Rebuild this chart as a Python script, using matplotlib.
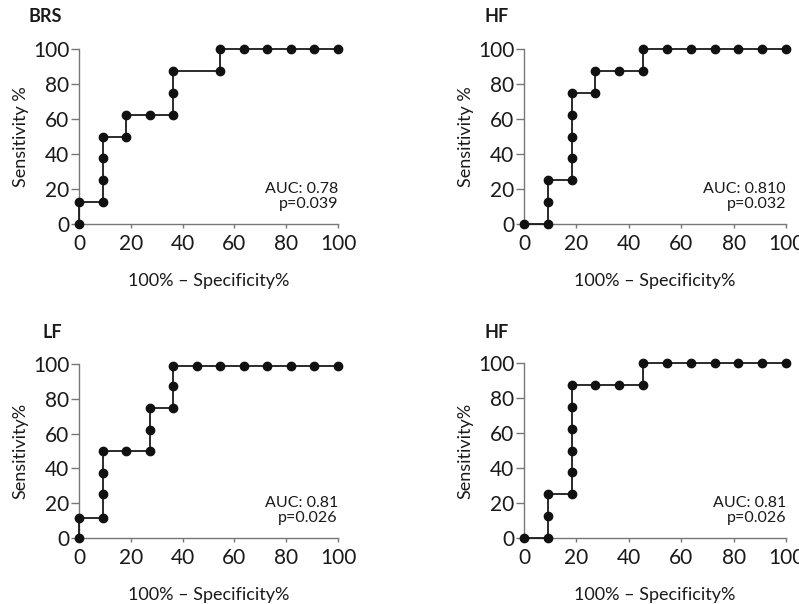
import matplotlib
matplotlib.use("Agg")
import matplotlib.pyplot as plt

plt.rcParams['font.family'] = ['Lato', 'DejaVu Sans']

s = 100 / 11
brs_x = [0, 0, s, s, s, s, 2*s, 2*s, 3*s, 4*s, 4*s, 4*s, 6*s, 6*s, 7*s, 8*s, 9*s, 10*s, 11*s]
brs_y = [0, 12.5, 12.5, 25, 37.5, 50, 50, 62.5, 62.5, 62.5, 75, 87.5, 87.5, 100, 100, 100, 100, 100, 100]

hf1_x = [0, s, s, s, 2*s, 2*s, 2*s, 2*s, 2*s, 3*s, 3*s, 4*s, 5*s, 5*s, 6*s, 7*s, 8*s, 9*s, 10*s, 11*s]
hf1_y = [0, 0, 12.5, 25, 25, 37.5, 50, 62.5, 75, 75, 87.5, 87.5, 87.5, 100, 100, 100, 100, 100, 100, 100]

lf_x = [0, 0, s, s, s, s, 2*s, 3*s, 3*s, 3*s, 4*s, 4*s, 4*s, 5*s, 6*s, 7*s, 8*s, 9*s, 10*s, 11*s]
lf_y = [0, 11.5, 11.5, 25.5, 37.5, 50, 50, 50, 62, 75, 75, 87.5, 99, 99, 99, 99, 99, 99, 99, 99]

hf2_x = [0, s, s, s, 2*s, 2*s, 2*s, 2*s, 2*s, 2*s, 3*s, 4*s, 5*s, 5*s, 6*s, 7*s, 8*s, 9*s, 10*s, 11*s]
hf2_y = [0, 0, 12.5, 25, 25, 37.5, 50, 62.5, 75, 87.5, 87.5, 87.5, 87.5, 100, 100, 100, 100, 100, 100, 100]

titles = ["BRS", "HF", "LF", "HF"]
ylabels = ["Sensitivity %", "Sensitivity %", "Sensitivity%", "Sensitivity%"]
auc_texts = ["AUC: 0.78\np=0.039", "AUC: 0.810\np=0.032", "AUC: 0.81\np=0.026", "AUC: 0.81\np=0.026"]
ticks = [0, 20, 40, 60, 80, 100]

W, H = 799, 604
fig = plt.figure(figsize=(W/100, H/100), dpi=100)

# axes pixel boxes: (x0, x100, y100, y0), title pixel position (left, centre y)
boxes = [(79, 338, 49, 224), (524, 786, 49, 224), (79, 338, 364, 538), (524, 786, 363, 538)]
title_pos = [(28, 17), (484, 17), (43, 332), (484, 332)]
data = [(brs_x, brs_y), (hf1_x, hf1_y), (lf_x, lf_y), (hf2_x, hf2_y)]

for (x0, x1, yt, yb), (tx, ty), (xs, ys), title, yl, auc in zip(
        boxes, title_pos, data, titles, ylabels, auc_texts):
    ax = fig.add_axes([x0/W, 1 - yb/H, (x1-x0)/W, (yb-yt)/H])
    ax.step(xs, ys, where='post', color='#1a1a1a', lw=1.3, zorder=3, clip_on=False)
    ax.plot(xs, ys, 'o', color='#111111', ms=6, zorder=4, clip_on=False)
    ax.set_xlim(0, 100)
    ax.set_ylim(0, 100)
    ax.set_xticks(ticks)
    ax.set_yticks(ticks)
    for sp in ['top', 'right']:
        ax.spines[sp].set_visible(False)
    for sp in ['left', 'bottom']:
        ax.spines[sp].set_color('#777777')
        ax.spines[sp].set_linewidth(1.0)
    ax.tick_params(axis='y', direction='out', length=6, width=1.0, color='#777777',
                   labelsize=15, pad=1, labelcolor='#1a1a1a')
    ax.tick_params(axis='x', direction='out', length=3, width=1.0, color='#777777',
                   labelsize=15, pad=4, labelcolor='#1a1a1a')
    ax.set_xlabel("100% – Specificity%", fontsize=13, labelpad=14, color='#1a1a1a')
    ax.set_ylabel(yl, fontsize=13, labelpad=3, color='#1a1a1a')
    ax.text(1.0, 0.075, auc, transform=ax.transAxes, ha='right', va='bottom',
            fontsize=11.5, color='#1a1a1a', linespacing=1.1)
    fig.text(tx/W, 1 - ty/H, title, ha='left', va='center',
             fontsize=13, fontweight='bold', color='#1a1a1a')

fig.savefig("out.png", dpi=100)
